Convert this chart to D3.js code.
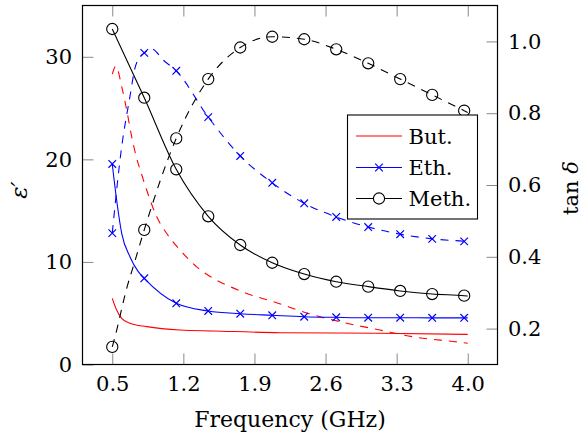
<!DOCTYPE html>
<html><head><meta charset="utf-8">
<script src="https://cdn.jsdelivr.net/npm/d3@7"></script>
<style>
body{margin:0;background:#fff;}
</style></head>
<body><svg id="c" width="582" height="439"></svg>
<script>
// ---- data ----
const xTicks = [0.5, 1.2, 1.9, 2.6, 3.3, 4.0];
const yLeftTicks = [0, 10, 20, 30];
const yRightTicks = [0.2, 0.4, 0.6, 0.8, 1.0];
const markFreq = [0.5, 0.815, 1.13, 1.445, 1.76, 2.075, 2.39, 2.705, 3.02, 3.335, 3.65, 3.965];

// Butanol (no markers)
const butEpsFreq = [0.5, 0.543, 0.593, 0.674, 0.839, 1.167, 1.494, 2.151, 3.136, 4.0];
const butEpsVal  = [6.45, 5.31, 4.50, 4.02, 3.69, 3.36, 3.27, 3.10, 3.04, 2.94];
const butTanFreq = [0.5, 0.536, 0.593, 0.642, 0.691, 0.740, 0.789, 0.839, 0.937, 1.036, 1.167, 1.331, 1.494, 1.659, 1.823, 2.085, 2.479, 2.808, 3.136, 3.464, 3.923, 4.0];
const butTanVal  = [0.909, 0.931, 0.874, 0.809, 0.735, 0.675, 0.630, 0.586, 0.512, 0.465, 0.419, 0.372, 0.340, 0.317, 0.298, 0.275, 0.238, 0.215, 0.196, 0.177, 0.162, 0.159];

// Ethanol
const ethEpsMarks = [19.55, 8.40, 5.97, 5.22, 4.95, 4.80, 4.66, 4.60, 4.56, 4.56, 4.55, 4.55];
const ethEpsExtraFreq = [0.543, 0.593, 0.674, 0.756, 4.0];
const ethEpsExtraVal  = [16.04, 12.79, 10.51, 9.05, 4.55];
const ethTanMarks = [0.466, 0.968, 0.918, 0.789, 0.681, 0.606, 0.549, 0.511, 0.483, 0.463, 0.450, 0.443];
const ethTanExtraFreq = [0.593, 0.674, 0.723, 0.773, 0.891, 1.002, 4.0];
const ethTanExtraVal  = [0.707, 0.846, 0.925, 0.957, 0.979, 0.948, 0.442];

// Methanol
const methEpsMarks = [32.71, 26.01, 19.03, 14.45, 11.65, 9.92, 8.82, 8.07, 7.59, 7.17, 6.87, 6.71];
const methEpsExtraFreq = [4.0];
const methEpsExtraVal  = [6.68];
const methTanMarks = [0.149, 0.475, 0.730, 0.895, 0.983, 1.013, 1.006, 0.978, 0.939, 0.895, 0.851, 0.807];
const methTanExtraFreq = [0.527, 0.642, 0.723, 4.0];
const methTanExtraVal  = [0.177, 0.312, 0.388, 0.802];

const legendNames = ["But.", "Eth.", "Meth."];

// ---- helpers ----
function merge(fa, va, fb, vb){
  const pts = fa.map((f,i)=>[f,va[i]]);
  (fb||[]).forEach((f,i)=>pts.push([f,vb[i]]));
  return pts.sort((a,b)=>a[0]-b[0]);
}

const FONT = "'DejaVu Serif', 'Liberation Serif', 'Times New Roman', serif";
const svg = d3.select("#c").style("font-family", FONT);
const L = 82.5, R = 497.5, T = 5.5, B = 364.5;
const x  = d3.scaleLinear().domain([0.207, 4.293]).range([L, R]);
const yL = d3.scaleLinear().domain([0, 35]).range([B, T]);
const yR = d3.scaleLinear().domain([0.1, 1.1]).range([B, T]);

const fs = 21;
function styleAxis(g){
  g.attr("font-family", null).attr("font-size", null);
  g.select(".domain").remove();
  g.selectAll(".tick line").attr("stroke","#8a8a8a").attr("stroke-width",1);
  g.selectAll(".tick text").style("font-family", FONT).style("font-size", fs+"px").attr("fill","#000");
}
svg.append("g").attr("transform",`translate(0,${B})`)
  .call(d3.axisBottom(x).tickValues(xTicks).tickFormat(d3.format(".1f")).tickSize(-11).tickPadding(12))
  .call(styleAxis);
svg.append("g").attr("transform",`translate(0,${T})`)
  .call(d3.axisTop(x).tickValues(xTicks).tickFormat("").tickSize(-11))
  .call(styleAxis);
svg.append("g").attr("transform",`translate(${L},0)`)
  .call(d3.axisLeft(yL).tickValues(yLeftTicks).tickFormat(d3.format("d")).tickSize(-11).tickPadding(10.5))
  .call(styleAxis);
svg.append("g").attr("transform",`translate(${R},0)`)
  .call(d3.axisRight(yR).tickValues(yRightTicks).tickFormat(d3.format(".1f")).tickSize(-11).tickPadding(10.5))
  .call(styleAxis);

svg.append("clipPath").attr("id","clip").append("rect").attr("x",L).attr("y",T).attr("width",R-L).attr("height",B-T);
const plot = svg.append("g").attr("clip-path","url(#clip)");

function drawLine(pts, yS, color, dashed){
  const line = d3.line().x(d=>x(d[0])).y(d=>yS(d[1])).curve(d3.curveMonotoneX);
  plot.append("path").datum(pts).attr("d",line).attr("fill","none")
    .attr("stroke",color).attr("stroke-width",1.1)
    .attr("stroke-dasharray", dashed ? "8,7" : null);
}
function drawMarks(vals, yS, color, type){
  const g = svg.append("g");
  markFreq.forEach((f,i)=>{
    const cx = x(f), cy = yS(vals[i]);
    if(type==="o"){
      g.append("circle").attr("cx",cx).attr("cy",cy).attr("r",5.6)
        .attr("fill","none").attr("stroke",color).attr("stroke-width",1.1);
    } else {
      const s = 3.8;
      g.append("path").attr("d",`M${cx-s},${cy-s}L${cx+s},${cy+s}M${cx-s},${cy+s}L${cx+s},${cy-s}`)
        .attr("stroke",color).attr("stroke-width",1.2);
    }
  });
}

const red = "#ff0000", blue = "#0000ff", black = "#000000";
drawLine(butEpsFreq.map((f,i)=>[f,butEpsVal[i]]), yL, red, false);
drawLine(butTanFreq.map((f,i)=>[f,butTanVal[i]]), yR, red, true);
drawLine(merge(markFreq, ethEpsMarks, ethEpsExtraFreq, ethEpsExtraVal), yL, blue, false);
drawLine(merge(markFreq, ethTanMarks, ethTanExtraFreq, ethTanExtraVal), yR, blue, true);
drawMarks(ethEpsMarks, yL, blue, "x");
drawMarks(ethTanMarks, yR, blue, "x");
drawLine(merge(markFreq, methEpsMarks, methEpsExtraFreq, methEpsExtraVal), yL, black, false);
drawLine(merge(markFreq, methTanMarks, methTanExtraFreq, methTanExtraVal), yR, black, true);
drawMarks(methEpsMarks, yL, black, "o");
drawMarks(methTanMarks, yR, black, "o");

svg.append("rect").attr("x",L).attr("y",T).attr("width",R-L).attr("height",B-T)
  .attr("fill","none").attr("stroke","#000").attr("stroke-width",1.2);

// legend
const lg = svg.append("g");
lg.append("rect").attr("x",347.5).attr("y",115).attr("width",130).attr("height",104)
  .attr("fill","#fff").attr("stroke","#000").attr("stroke-width",1.1);
const lColors = [red, blue, black], lTypes = [null, "x", "o"], lY = [136, 167.5, 198.5];
legendNames.forEach((n,i)=>{
  const y = lY[i];
  lg.append("line").attr("x1",356).attr("x2",402).attr("y1",y).attr("y2",y)
    .attr("stroke",lColors[i]).attr("stroke-width",1.1);
  if(lTypes[i]==="x"){
    const s=3.8, cx=379;
    lg.append("path").attr("d",`M${cx-s},${y-s}L${cx+s},${y+s}M${cx-s},${y+s}L${cx+s},${y-s}`)
      .attr("stroke",blue).attr("stroke-width",1.2);
  } else if(lTypes[i]==="o"){
    lg.append("circle").attr("cx",379).attr("cy",y).attr("r",5.6).attr("fill","#fff")
      .attr("stroke",black).attr("stroke-width",1.1);
  }
  lg.append("text").attr("x",408.5).attr("y",y+7.5).style("font-size",fs+"px").text(n);
});

// axis titles
svg.append("text").attr("x",290).attr("y",427).attr("text-anchor","middle")
  .style("font-size","22px").text("Frequency (GHz)");
svg.append("text").attr("transform","translate(27,190) rotate(-90)").attr("text-anchor","middle")
  .style("font-size","23px").style("font-style","italic").text("ε′");
const t = svg.append("text").attr("transform","translate(578,188) rotate(-90)").attr("text-anchor","middle")
  .style("font-size","21px");
t.append("tspan").text("tan ");
t.append("tspan").style("font-style","italic").text("δ");
</script></body></html>
